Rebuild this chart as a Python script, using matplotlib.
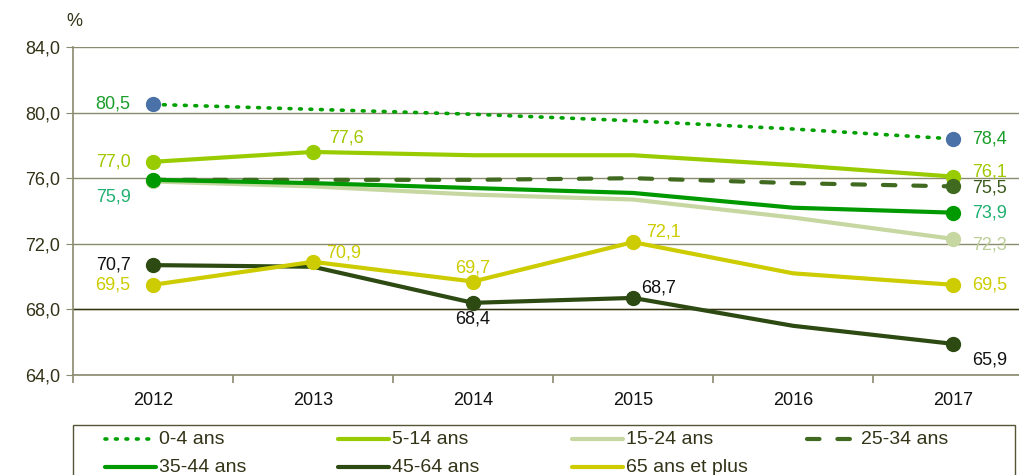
import matplotlib
matplotlib.use("Agg")
import matplotlib.pyplot as plt
from matplotlib.lines import Line2D
from matplotlib.patches import Rectangle

years = ["2012", "2013", "2014", "2015", "2016", "2017"]
series_names = ["0-4 ans", "5-14 ans", "15-24 ans", "25-34 ans", "35-44 ans", "45-64 ans", "65 ans et plus"]
v_0_4 = [80.5, 80.2, 79.9, 79.5, 79.0, 78.4]
v_5_14 = [77.0, 77.6, 77.4, 77.4, 76.8, 76.1]
v_15_24 = [75.8, 75.5, 75.0, 74.7, 73.6, 72.3]
v_25_34 = [75.9, 75.9, 75.9, 76.0, 75.7, 75.5]
v_35_44 = [75.9, 75.7, 75.4, 75.1, 74.2, 73.9]
v_45_64 = [70.7, 70.6, 68.4, 68.7, 67.0, 65.9]
v_65p = [69.5, 70.9, 69.7, 72.1, 70.2, 69.5]
yticks = [64.0, 68.0, 72.0, 76.0, 80.0, 84.0]

plt.rcParams['font.family'] = ['Liberation Sans', 'DejaVu Sans']

W, H = 1019, 475
fig = plt.figure(figsize=(W / 100, H / 100), dpi=100)
ax_l, ax_r, ax_t, ax_b = 73, 1033, 47, 375
ax = fig.add_axes([ax_l / W, 1 - ax_b / H, (ax_r - ax_l) / W, (ax_b - ax_t) / H])
ax.set_xlim(-0.5, 5.5)
ax.set_ylim(64, 84)

grid_c = "#8a8a6e"
for y in yticks:
    ax.axhline(y, color=grid_c, lw=1.0, zorder=0)
ax.axhline(68.0, color="#333310", lw=1.0, zorder=0)

x = list(range(len(years)))
FS = 13
specs = [
    (v_0_4, "#00a000", (0, (0.5, 2.4)), 2.6, "#4a72a8", [0, 5], "#1a9e2a",
     [(0, -0.14, 0, "right", "center"), (5, 0.12, 0, "left", "center")]),
    (v_5_14, "#99cc00", "-", 3.0, "#99cc00", [0, 1, 5], "#a0c800",
     [(0, -0.14, 0, "right", "center"), (1, 0.1, 0.35, "left", "bottom"), (5, 0.12, 0.25, "left", "center")]),
    (v_15_24, "#c6d7a2", "-", 3.0, "#c6d7a2", [0, 5], "#bccf98",
     [(5, 0.12, -0.35, "left", "center")]),
    (v_25_34, "#3f6a1f", (0, (3, 4.3)), 3.0, "#3f6a1f", [5], "#3a5a1c",
     [(5, 0.12, -0.1, "left", "center")]),
    (v_35_44, "#009a00", "-", 3.0, "#009a00", [0, 5], "#20b070",
     [(0, -0.14, -0.5, "right", "top"), (5, 0.12, 0, "left", "center")]),
    (v_45_64, "#2d4a12", "-", 3.0, "#2d4a12", [0, 2, 3, 5], "#111111",
     [(0, -0.14, 0, "right", "center"), (2, 0, -0.45, "center", "top"), (3, 0.05, 0.1, "left", "bottom"),
      (5, 0.12, -0.45, "left", "top")]),
    (v_65p, "#cccc00", "-", 3.0, "#cccc00", [0, 1, 2, 3, 5], "#cccc00",
     [(0, -0.14, 0, "right", "center"), (1, 0.08, 0.05, "left", "bottom"), (2, 0, 0.3, "center", "bottom"),
      (3, 0.08, 0.1, "left", "bottom"), (5, 0.12, 0, "left", "center")]),
]

order = [2, 5, 6, 3, 4, 1, 0]
for k in order:
    vals, col, ls, lw, mc, mk, lc, labs = specs[k]
    ax.plot(x, vals, color=col, ls=ls, lw=lw, zorder=3 + k * 0.1,
            solid_capstyle="butt", dash_capstyle="round")
    ax.plot([x[i] for i in mk], [vals[i] for i in mk], "o", color=mc, ms=10, zorder=4 + k * 0.1, clip_on=False)
    for (i, dx, dy, ha, va) in labs:
        ax.text(x[i] + dx, vals[i] + dy, f"{vals[i]:.1f}".replace(".", ","), color=lc,
                fontsize=FS, ha=ha, va=va, zorder=6)

for s in ["top", "right"]:
    ax.spines[s].set_visible(False)
ax.spines["left"].set_color(grid_c)
ax.spines["bottom"].set_color(grid_c)
ax.spines["left"].set_linewidth(1.2)
ax.spines["bottom"].set_linewidth(1.2)

ax.set_yticks(yticks)
ax.set_yticklabels([f"{t:.1f}".replace(".", ",") for t in yticks], fontsize=FS, color="#333318")
ax.set_xticks(x)
ax.set_xticklabels(years, fontsize=FS, color="#111111")
ax.tick_params(axis="x", length=0, pad=12)
ax.tick_params(axis="y", length=5, color=grid_c, pad=4)
ax.set_xticks([i + 0.5 for i in range(-1, 6)], minor=True)
ax.tick_params(axis="x", which="minor", length=6, color=grid_c, width=1.2)

fig.text(66 / W, 1 - 22 / H, "%", fontsize=FS, color="#333318", ha="left", va="center")

# legend drawn manually in figure pixel coordinates
def fx(px):
    return px / W

def fy(py):
    return 1 - py / H

fig.patches.append(Rectangle((fx(73), fy(485)), fx(1015) - fx(73), fy(425) - fy(485),
                             transform=fig.transFigure, fill=False, edgecolor="#555533", lw=1.0))
col_x = [105, 338, 572, 807]
row_y = [439, 467]
for idx, name in enumerate(series_names):
    r, c = divmod(idx, 4)
    vals, col, ls, lw, mc, mk, lc, labs = specs[idx]
    x0 = col_x[c]
    y0 = row_y[r]
    fig.lines.append(Line2D([fx(x0), fx(x0 + 51)], [fy(y0), fy(y0)], transform=fig.transFigure,
                            color=col, ls=ls, lw=lw, solid_capstyle="round", dash_capstyle="round"))
    fig.text(fx(x0 + 54), fy(y0), name, fontsize=14, color="#333318", ha="left", va="center")

fig.savefig("out.png", dpi=100)
